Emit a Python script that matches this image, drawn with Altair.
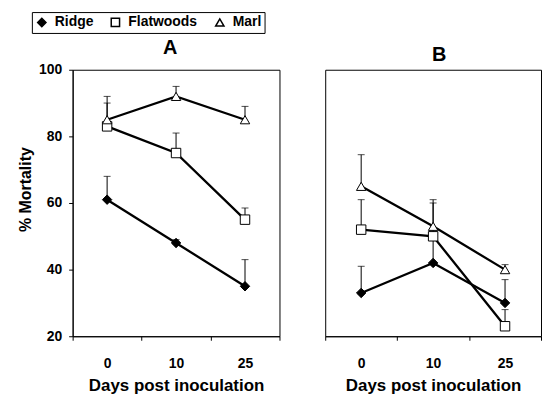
import altair as alt
import pandas as pd

days = ["0", "10", "25"]
series = ["Ridge", "Flatwoods", "Marl"]

# Panel A means and upper error ends (% mortality)
a_ridge = [61, 48, 35]
a_ridge_hi = [68, 49, 43]
a_flat = [83, 75, 55]
a_flat_hi = [90, 81, 58.5]
a_marl = [85, 92, 85]
a_marl_hi = [92, 95, 89]

# Panel B
b_ridge = [33, 42, 30]
b_ridge_hi = [41, 49, 37]
b_flat = [52, 50, 23]
b_flat_hi = [61, 60, 28]
b_marl = [65, 53, 40]
b_marl_hi = [74.5, 61, 41.5]

panel_a = {"Ridge": (a_ridge, a_ridge_hi), "Flatwoods": (a_flat, a_flat_hi), "Marl": (a_marl, a_marl_hi)}
panel_b = {"Ridge": (b_ridge, b_ridge_hi), "Flatwoods": (b_flat, b_flat_hi), "Marl": (b_marl, b_marl_hi)}


def frame(panel):
    rows = []
    for s in series:
        m, hi = panel[s]
        for d, v, h in zip(days, m, hi):
            rows.append({"day": d, "series": s, "mean": v, "hi": h})
    return pd.DataFrame(rows)


FONT = "Liberation Sans"

shape_scale = alt.Scale(domain=series, range=["diamond", "square", "triangle-up"])
fill_scale = alt.Scale(domain=series, range=["black", "white", "white"])
stroke_scale = alt.Scale(domain=series, range=["black", "black", "black"])

legend = alt.Legend(
    title=None,
    orient="none",
    legendX=-41,
    legendY=-58,
    direction="horizontal",
    symbolSize=70,
    symbolStrokeWidth=1.5,
    symbolStrokeColor="black",
    labelFont=FONT,
    labelFontSize=14,
    labelFontWeight="bold",
    labelColor="black",
    labelOffset=6,
    columnPadding=14,
    padding=3,
    strokeColor="black",
    fillColor="white",
)


def panel(panel_data, title, width, show_y, dx):
    df = frame(panel_data)
    x = alt.X(
        "day:N",
        sort=days,
        title="Days post inoculation",
        axis=alt.Axis(
            labelAngle=0,
            tickBand="extent",
            tickSize=4,
            labelPadding=16,
            titlePadding=8,
        ),
    )
    yscale = alt.Scale(domain=[20, 100], nice=False, zero=False)
    if show_y:
        yaxis = alt.Axis(values=[20, 40, 60, 80, 100], tickSize=4, labelPadding=7,
                         titlePadding=5, grid=False, title="% Mortality", titleY=120)
    else:
        yaxis = None
    y = alt.Y("mean:Q", scale=yscale, axis=yaxis)
    yhi = alt.Y("hi:Q", scale=yscale, axis=yaxis)
    leg = legend if show_y else None

    base = alt.Chart(df)
    rules = base.mark_rule(color="black", strokeWidth=1).encode(x=x, y=y, y2="hi:Q")
    caps = base.mark_tick(color="black", thickness=1, size=7).encode(x=x, y=yhi)
    lines = base.mark_line(color="black", strokeWidth=2.3).encode(
        x=x, y=y, detail="series:N"
    )
    pts = base.mark_point(filled=True, strokeWidth=1, opacity=1, size=90).encode(
        x=x,
        y=y,
        shape=alt.Shape("series:N", scale=shape_scale, legend=leg),
        fill=alt.Fill("series:N", scale=fill_scale, legend=leg),
        stroke=alt.Stroke("series:N", scale=stroke_scale, legend=leg),
    )
    return alt.layer(rules, caps, lines, pts).properties(
        width=width,
        height=268,
        title=alt.TitleParams(title, fontSize=20, font=FONT, fontWeight="bold", offset=5, dx=dx),
    )


chart = (
    alt.hconcat(panel(panel_a, "A", 208, True, -6), panel(panel_b, "B", 217, False, 6), spacing=44)
    .properties(padding={"left": 9, "top": 2, "right": 0, "bottom": 0})
    .configure_view(stroke="black", strokeWidth=1)
    .configure_axis(
        labelFont=FONT,
        labelFontSize=14,
        labelFontWeight="bold",
        labelColor="black",
        titleFont=FONT,
        titleFontSize=16,
        titleFontWeight="bold",
        titleColor="black",
        domainColor="black",
        tickColor="black",
    )
    .configure_axisX(titleFontSize=17)
)

chart.save("out.html", embed_options={"renderer": "svg", "actions": False})
